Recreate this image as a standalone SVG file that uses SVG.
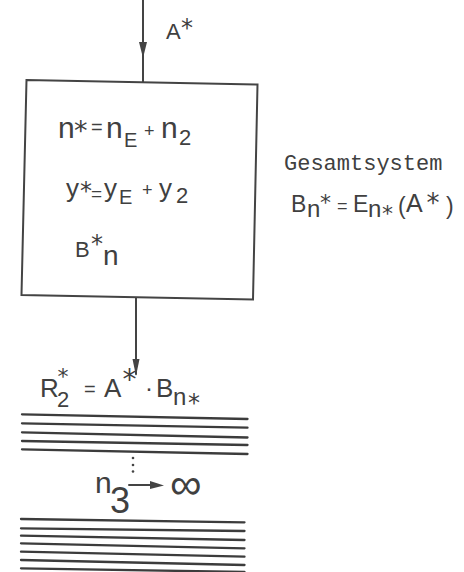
<svg xmlns="http://www.w3.org/2000/svg" width="464" height="572" viewBox="0 0 464 572">
<style>
.ln{stroke:#444;stroke-width:2;fill:none;stroke-linecap:round}
.st{stroke:#3c3c3c;stroke-width:2.3;fill:none;stroke-linecap:round}
.t{font-family:"Liberation Sans","DejaVu Sans",sans-serif;fill:#404040}
.s{font-family:"DejaVu Sans","Liberation Sans",sans-serif;fill:#404040}
.m{font-family:"Liberation Mono","DejaVu Sans Mono",monospace;fill:#404040}
.ah{fill:#444}
</style>
<rect width="464" height="572" fill="#fff"/>
<g id="connectors">
<line class="ln" x1="143" y1="0" x2="143" y2="82"/>
<polygon class="ah" points="139,42 147,42 143,58"/>
<line class="ln" x1="136" y1="298" x2="136" y2="374"/>
<polygon class="ah" points="132.5,359 139.5,359 136,376"/>
</g>
<g id="input-label">
<text class="t" x="166" y="39" font-size="22">A</text>
<text class="s" x="181" y="36" font-size="24">*</text>
</g>
<g id="system-box">
<polygon class="ln" points="26.5,80 257.5,84.5 253,299.5 21.5,295"/>
<text class="t" x="58" y="138" font-size="30">n</text>
<text class="s" x="74" y="140" font-size="27">*</text>
<text class="t" x="91" y="134" font-size="20">=</text>
<text class="t" x="106" y="138" font-size="30">n</text>
<text class="t" x="124" y="147" font-size="20">E</text>
<text class="t" x="144" y="137" font-size="18">+</text>
<text class="t" x="161" y="138" font-size="30">n</text>
<text class="t" x="179" y="145" font-size="22">2</text>
<text class="t" x="66" y="196.5" font-size="26">y</text>
<text class="s" x="80" y="198.7" font-size="24">*</text>
<text class="t" x="91" y="200" font-size="19">=</text>
<text class="t" x="104" y="196.5" font-size="26">y</text>
<text class="t" x="119" y="204" font-size="20">E</text>
<text class="t" x="142" y="196" font-size="18">+</text>
<text class="t" x="159" y="196.5" font-size="26">y</text>
<text class="t" x="176" y="203" font-size="22">2</text>
<text class="t" x="75" y="257" font-size="22">B</text>
<text class="s" x="91" y="251.7" font-size="24">*</text>
<text class="t" x="103" y="265" font-size="28">n</text>
</g>
<g id="gesamtsystem">
<text class="m" x="284" y="170" font-size="22">Gesamtsystem</text>
<text class="t" x="291" y="212" font-size="23">B</text>
<text class="t" x="307" y="217" font-size="24">n</text>
<text class="s" x="320" y="210" font-size="22">*</text>
<text class="t" x="337" y="211.7" font-size="18">=</text>
<text class="t" x="353" y="212" font-size="23">E</text>
<text class="t" x="368" y="217" font-size="24">n</text>
<text class="s" x="382" y="220.5" font-size="22">*</text>
<text class="t" x="398" y="214" font-size="23">(</text>
<text class="t" x="406" y="212" font-size="25">A</text>
<text class="s" x="426.5" y="212.3" font-size="26">*</text>
<text class="t" x="446" y="214" font-size="23">)</text>
</g>
<g id="output-formula">
<text class="t" x="40" y="397" font-size="26">R</text>
<text class="s" x="57.5" y="383.5" font-size="22">*</text>
<text class="t" x="57" y="407" font-size="22">2</text>
<text class="t" x="84" y="396" font-size="20">=</text>
<text class="t" x="104" y="397" font-size="26">A</text>
<text class="s" x="122.5" y="388.5" font-size="28">*</text>
<text class="t" x="145" y="396" font-size="24">·</text>
<text class="t" x="156" y="397" font-size="26">B</text>
<text class="t" x="173" y="405" font-size="24">n</text>
<text class="s" x="188" y="410.7" font-size="24">*</text>
</g>
<g id="layers-top">
<line class="st" x1="22" y1="414.3" x2="247.5" y2="419"/>
<line class="st" x1="22" y1="423.3" x2="247.5" y2="427.7"/>
<line class="st" x1="22" y1="432.3" x2="247.5" y2="437.5"/>
<line class="st" x1="22" y1="441" x2="247.5" y2="445"/>
<line class="st" x1="22" y1="449.3" x2="247.5" y2="454"/>
</g>
<g id="limit">
<circle cx="133" cy="458" r="1.3" fill="#444"/>
<circle cx="133" cy="465" r="1.3" fill="#444"/>
<circle cx="133" cy="471.5" r="1.3" fill="#444"/>
<text class="t" x="95" y="493" font-size="30">n</text>
<text class="t" x="110" y="513" font-size="36">3</text>
<line class="ln" x1="129" y1="485" x2="152" y2="485"/>
<polygon class="ah" points="150,481 164,485.5 150,489"/>
<text class="t" x="170" y="498.5" font-size="44">∞</text>
</g>
<g id="layers-bottom">
<line class="st" x1="21" y1="519" x2="244.5" y2="522.3"/>
<line class="st" x1="21" y1="528.3" x2="244.5" y2="531"/>
<line class="st" x1="21" y1="535.7" x2="244.5" y2="540"/>
<line class="st" x1="21" y1="543.3" x2="244.5" y2="548.3"/>
<line class="st" x1="21" y1="551.7" x2="244.5" y2="556.7"/>
<line class="st" x1="21" y1="560" x2="244.5" y2="565"/>
<line class="st" x1="21" y1="568.3" x2="244.5" y2="572"/>
</g>
</svg>
